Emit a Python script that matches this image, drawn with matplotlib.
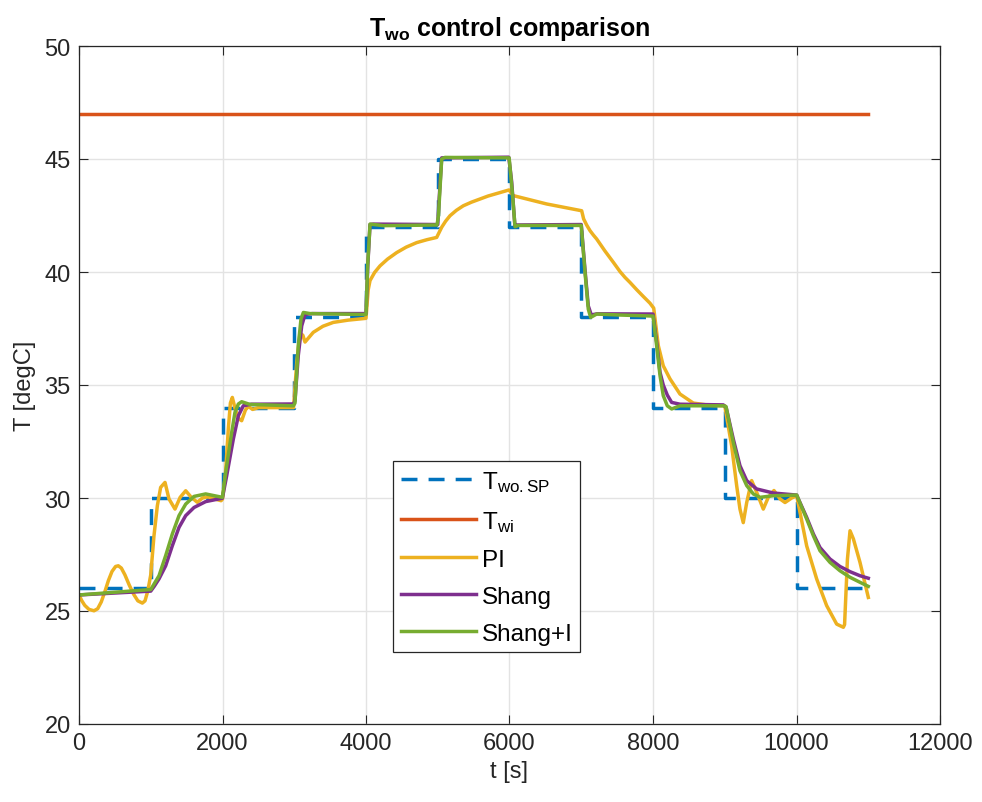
import matplotlib
matplotlib.use("Agg")
import matplotlib.pyplot as plt

plt.rcParams['font.family'] = 'Liberation Sans'
plt.rcParams['mathtext.fontset'] = 'custom'
plt.rcParams['mathtext.rm'] = 'Liberation Sans'
plt.rcParams['mathtext.bf'] = 'Liberation Sans:bold'
plt.rcParams['mathtext.it'] = 'Liberation Sans:italic'
plt.rcParams['mathtext.default'] = 'regular'

# setpoint steps (value holds from each time until the next)
sp_t = [0, 1000, 2000, 3000, 4000, 5000, 6000, 7000, 8000, 9000, 10000, 11000]
sp_T = [26, 30, 34, 38, 42, 45, 42, 38, 34, 30, 26, 26]

twi_t = [0, 11000]
twi_T = [47, 47]

pi_t = [0, 40, 80, 140, 209, 260, 310, 360, 410, 460, 510, 548, 590, 640, 700, 760, 820,
        883, 920, 960, 1000, 1045, 1092, 1138, 1199, 1254, 1338, 1410, 1487, 1560, 1649,
        1720, 1800, 1900, 1980, 2000, 2040, 2081, 2110, 2137, 2180, 2230, 2267, 2320, 2360,
        2420, 2500, 2990, 3035, 3080, 3120, 3150, 3190, 3265, 3400, 3544, 3750, 4000, 4015,
        4030, 4056, 4120, 4195, 4300, 4428, 4560, 4706, 4850, 4985, 5055, 5110, 5171, 5260,
        5356, 5470, 5589, 5700, 5821, 5910, 5993, 6053, 6518, 7006, 7033, 7075, 7122, 7170,
        7215, 7330, 7447, 7540, 7610, 7679, 7772, 7870, 7958, 8010, 8074, 8143, 8237, 8376,
        8562, 8794, 9000, 9096, 9166, 9212, 9258, 9306, 9375, 9445, 9537, 9607, 9686, 9770,
        9840, 9933, 10003, 10142, 10281, 10420, 10560, 10653, 10670, 10710, 10746, 10793,
        10885, 11001]
pi_T = [25.71, 25.45, 25.25, 25.07, 25.01, 25.1, 25.4, 25.85, 26.35, 26.75, 26.97, 27.0,
        26.9, 26.6, 26.15, 25.75, 25.45, 25.35, 25.45, 25.9, 26.6, 28.33, 29.66, 30.47,
        30.69, 29.96, 29.51, 30.03, 30.32, 30.05, 29.81, 30.0, 30.05, 29.95, 29.88, 29.95,
        31.0, 33.05, 34.2, 34.45, 33.9, 33.5, 33.42, 33.9, 34.05, 33.92, 34.0, 34.0, 36.0,
        37.3, 37.2, 36.9, 37.05, 37.33, 37.6, 37.77, 37.87, 37.95, 38.6, 39.2, 39.62, 39.98,
        40.27, 40.57, 40.86, 41.1, 41.3, 41.43, 41.53, 41.98, 42.25, 42.49, 42.73, 42.93,
        43.09, 43.23, 43.36, 43.47, 43.55, 43.63, 43.38, 43.01, 42.71, 42.35, 42.08, 41.83,
        41.63, 41.46, 40.93, 40.43, 40.02, 39.76, 39.54, 39.22, 38.9, 38.62, 38.4, 36.74,
        35.85, 35.27, 34.6, 34.2, 34.1, 34.08, 32.31, 30.55, 29.51, 28.91, 29.8, 30.77,
        30.25, 29.51, 30.03, 30.33, 29.96, 29.8, 30.0, 30.1, 27.88, 26.42, 25.24, 24.42,
        24.28, 24.4, 27.3, 28.55, 28.19, 27.15, 25.6]

shang_t = [0, 1000, 1050, 1115, 1208, 1301, 1394, 1487, 1603, 1765, 1998, 2058, 2151, 2221,
           2290, 2400, 2990, 3010, 3056, 3104, 3150, 3250, 4000, 4025, 4056, 4100, 5000, 5015,
           5055, 5990, 6030, 6075, 6100, 7000, 7052, 7098, 7140, 7220, 8000, 8051, 8098, 8143,
           8200, 8260, 8376, 8980, 9020, 9119, 9212, 9306, 9445, 9677, 10003, 10020, 10142,
           10235, 10327, 10467, 10606, 10746, 10885, 11001]
shang_T = [25.71, 25.88, 26.1, 26.42, 27.0, 27.89, 28.7, 29.22, 29.58, 29.84, 29.99, 30.98,
           32.61, 33.64, 34.08, 34.15, 34.16, 34.3, 36.3, 37.62, 38.12, 38.16, 38.16, 40.3,
           42.1, 42.12, 42.1, 43.0, 45.05, 45.08, 44.0, 42.05, 42.08, 42.1, 40.1, 38.5, 38.1,
           38.15, 38.14, 36.9, 35.56, 35.0, 34.55, 34.23, 34.15, 34.12, 34.0, 32.61, 31.43,
           30.77, 30.4, 30.22, 30.13, 30.0, 29.14, 28.41, 27.81, 27.3, 26.97, 26.74, 26.56,
           26.45]

shangi_t = [0, 1000, 1115, 1208, 1301, 1394, 1487, 1603, 1765, 1998, 2058, 2128, 2174, 2221,
            2267, 2383, 2987, 3010, 3056, 3094, 3127, 3220, 4000, 4023, 4056, 4242, 4990,
            5010, 5055, 5100, 5995, 6040, 6077, 6120, 7000, 7052, 7098, 7131, 7215, 7500,
            8000, 8051, 8098, 8143, 8199, 8260, 8376, 8980, 9017, 9119, 9212, 9306, 9398,
            9491, 9677, 10003, 10142, 10235, 10327, 10467, 10606, 10746, 10885, 11001]
shangi_T = [25.71, 25.95, 26.56, 27.45, 28.41, 29.22, 29.73, 30.07, 30.18, 30.03, 31.43,
            32.9, 33.79, 34.16, 34.26, 34.14, 34.08, 34.2, 36.74, 37.92, 38.21, 38.16, 38.12,
            40.28, 42.12, 42.05, 42.08, 42.5, 45.0, 45.07, 45.05, 43.5, 42.0, 42.06, 42.06,
            39.99, 38.36, 37.99, 38.14, 38.1, 38.05, 36.74, 35.41, 34.53, 34.08, 33.94, 34.08,
            34.08, 34.05, 32.46, 31.21, 30.55, 30.18, 30.03, 30.1, 30.13, 29.07, 28.33, 27.67,
            27.15, 26.78, 26.49, 26.27, 26.09]

fig = plt.figure(figsize=(9.82, 8.03), dpi=100)
ax = fig.add_axes([79/982, 78/803, 861/982, 678/803])

lw = 2.5
ax.plot(sp_t, sp_T, drawstyle='steps-post', color='#0072BD', lw=lw, dashes=(4.6, 3.2),
        label=r'$T_{wo.SP}$')
ax.plot(twi_t, twi_T, color='#D95319', lw=lw, label=r'$T_{wi}$')
ax.plot(pi_t, pi_T, color='#EDB120', lw=lw, label='PI')
ax.plot(shang_t, shang_T, color='#7E2F8E', lw=lw, label='Shang')
ax.plot(shangi_t, shangi_T, color='#77AC30', lw=lw, label='Shang+I')

ax.set_xlim(0, 12000)
ax.set_ylim(20, 50)
ax.set_xticks(range(0, 12001, 2000))
ax.set_yticks(range(20, 51, 5))

dark = '#262626'
ax.grid(True, color='#e3e3e3', lw=1)
ax.set_axisbelow(True)
ax.tick_params(direction='in', top=True, right=True, length=6.5, width=0.8,
               labelsize=17, colors=dark, pad=6)
for s in ax.spines.values():
    s.set_color(dark)
    s.set_linewidth(0.9)

ax.set_xlabel('t [s]', fontsize=17, color=dark, labelpad=4)
ax.set_ylabel('T [degC]', fontsize=17, color=dark, labelpad=6)
ax.set_title(r'$\mathbf{T_{wo}}$ control comparison', fontsize=18, fontweight='bold',
             color='black', pad=8)

leg = ax.legend(loc='lower left', bbox_to_anchor=(0.365, 0.106), borderaxespad=0,
                fontsize=17.5, handlelength=3.1, handletextpad=0.25, labelspacing=0.62,
                borderpad=0.3, fancybox=False, framealpha=1, edgecolor=dark)
leg.get_frame().set_linewidth(0.9)

fig.savefig('out.png', dpi=100)
